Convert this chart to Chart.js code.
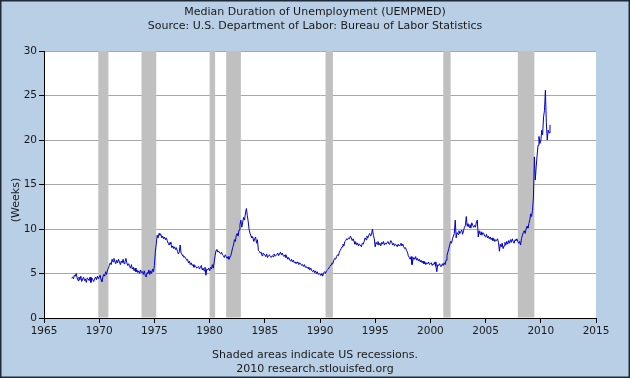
<!DOCTYPE html>
<html>
<head>
<meta charset="utf-8">
<script src="https://cdn.jsdelivr.net/npm/chart.js@4.4.0/dist/chart.umd.min.js"></script>
<style>
html,body{margin:0;padding:0;background:#b9cfe6;}
#wrap{width:630px;height:378px;position:relative;}
canvas{display:block;}
</style>
</head>
<body>
<div id="wrap"><canvas id="c" width="630" height="378"></canvas></div>
<script>
// ---- data ----
const titleLines = ["Median Duration of Unemployment (UEMPMED)", "Source: U.S. Department of Labor: Bureau of Labor Statistics"];
const footerLines = ["Shaded areas indicate US recessions.", "2010 research.stlouisfed.org"];
const yAxisTitle = "(Weeks)";
const startYear = 1967, startMonth = 7; // first monthly observation
const medianWeeks = [
  4.5, 4.6, 4.4, 4.8, 4.7, 5.0,                              // 1967 Jul-Dec
  4.5, 4.2, 4.6, 4.3, 4.7, 4.1, 4.4, 4.6, 4.2, 4.4, 4.0, 4.5,  // 1968
  4.4, 4.2, 4.6, 4.0, 4.5, 4.3, 4.1, 4.4, 4.6, 4.3, 4.7, 4.4,  // 1969
  4.6, 4.8, 4.3, 4.1, 4.6, 4.9, 4.7, 5.2, 4.9, 5.4, 5.6, 5.9,  // 1970
  6.2, 6.0, 6.6, 6.3, 6.7, 6.4, 6.1, 6.5, 6.2, 6.6, 6.3, 6.0,  // 1971
  6.4, 6.2, 6.6, 6.1, 6.3, 6.7, 6.2, 5.9, 6.1, 5.8, 5.6, 6.0,  // 1972
  5.5, 5.7, 5.3, 5.6, 5.2, 5.4, 5.1, 5.3, 5.0, 5.4, 5.1, 5.2,  // 1973
  4.9, 5.3, 4.8, 4.6, 5.1, 5.0, 5.4, 4.9, 5.3, 5.0, 5.5, 5.2,  // 1974
  5.9, 7.4, 8.3, 9.3, 9.0, 9.5, 9.3, 9.4, 9.0, 9.2, 8.9, 9.1,  // 1975
  8.8, 9.0, 8.7, 8.4, 8.2, 8.5, 8.3, 7.9, 8.1, 7.8, 8.0, 7.7,  // 1976
  7.9, 7.5, 7.2, 7.4, 8.2, 7.3, 7.1, 7.0, 6.8, 6.9, 6.7, 6.5,  // 1977
  6.6, 6.2, 6.4, 6.0, 6.2, 5.9, 6.0, 5.7, 5.9, 5.8, 5.6, 5.7,  // 1978
  5.8, 5.5, 5.7, 5.9, 5.4, 5.6, 5.3, 5.7, 4.8, 5.5, 5.4, 5.6,  // 1979
  5.3, 5.7, 5.5, 6.0, 5.6, 6.3, 7.0, 7.6, 7.7, 7.4, 7.5, 7.3,  // 1980
  7.2, 7.4, 7.1, 7.0, 6.8, 7.1, 6.9, 6.7, 6.9, 6.6, 6.8, 7.0,  // 1981
  7.4, 7.9, 8.2, 8.8, 8.6, 9.3, 9.5, 9.2, 9.9, 10.5, 11.0, 10.2, // 1982
  10.8, 11.3, 11.0, 11.8, 12.3, 11.5, 10.8, 9.9, 9.5, 9.2, 9.0, 9.1, // 1983
  8.6, 8.9, 9.1, 8.4, 8.8, 7.6, 7.5, 7.3, 7.4, 7.0, 7.3, 7.2,  // 1984
  7.1, 6.9, 7.2, 6.8, 7.0, 7.1, 6.9, 6.8, 7.0, 6.9, 7.2, 7.0,  // 1985
  7.0, 7.1, 7.3, 7.0, 7.2, 7.4, 7.1, 7.3, 7.0, 6.9, 7.1, 6.8,  // 1986
  6.9, 6.6, 6.8, 6.5, 6.4, 6.6, 6.3, 6.5, 6.2, 6.3, 6.1, 6.3,  // 1987
  6.2, 6.0, 6.2, 6.1, 5.9, 6.0, 5.8, 6.0, 5.7, 5.8, 5.6, 5.7,  // 1988
  5.5, 5.4, 5.6, 5.3, 5.2, 5.4, 5.1, 5.3, 5.0, 5.2, 4.9, 5.0,  // 1989
  4.9, 4.8, 5.0, 4.7, 5.1, 5.2, 5.0, 5.3, 5.4, 5.5, 5.7, 5.8,  // 1990
  6.0, 6.2, 6.1, 6.5, 6.7, 6.6, 6.9, 7.1, 7.0, 7.4, 7.6, 7.8,  // 1991
  8.0, 8.3, 8.1, 8.6, 8.7, 8.9, 8.8, 9.0, 8.9, 9.2, 9.0, 8.7,  // 1992
  8.9, 8.6, 8.3, 8.5, 8.2, 8.4, 8.1, 8.3, 8.2, 8.0, 8.4, 8.3,  // 1993
  8.6, 9.0, 8.8, 9.2, 9.0, 9.3, 9.5, 9.2, 9.4, 10.0, 9.3, 8.9, // 1994
  8.0, 8.5, 8.3, 8.6, 8.2, 8.4, 8.1, 8.5, 8.3, 8.6, 8.2, 8.4,  // 1995
  8.3, 8.5, 8.6, 8.3, 8.4, 8.7, 8.5, 8.2, 8.4, 8.1, 8.3, 8.2,  // 1996
  8.0, 8.3, 8.1, 8.2, 8.4, 8.1, 8.3, 8.0, 7.8, 7.9, 7.6, 7.4,  // 1997
  7.0, 6.8, 6.6, 6.9, 6.0, 6.5, 6.8, 6.6, 6.9, 6.5, 6.7, 6.4,  // 1998
  6.6, 6.3, 6.5, 6.2, 6.4, 6.1, 6.3, 6.0, 6.2, 6.1, 6.3, 6.0,  // 1999
  6.1, 6.2, 5.9, 6.1, 6.0, 6.3, 5.8, 5.2, 6.0, 5.9, 6.1, 5.8,  // 2000
  5.8, 6.1, 5.9, 6.2, 6.0, 6.5, 7.0, 7.4, 7.8, 8.2, 8.6, 8.4,  // 2001
  8.9, 9.2, 9.5, 11.0, 9.0, 9.6, 9.4, 9.8, 9.5, 9.7, 9.9, 9.4, // 2002
  9.8, 10.2, 10.4, 11.4, 10.3, 10.6, 10.2, 10.5, 10.1, 10.7, 10.4, 10.2, // 2003
  10.4, 10.2, 10.8, 11.0, 9.1, 9.8, 9.4, 9.7, 9.3, 9.6, 9.5, 9.2, // 2004
  9.1, 9.4, 9.0, 9.2, 8.9, 9.1, 8.8, 9.0, 8.7, 8.9, 8.6, 8.8,  // 2005
  8.7, 8.9, 8.5, 7.5, 8.3, 8.0, 8.4, 7.8, 8.1, 8.5, 8.2, 8.6,  // 2006
  8.3, 8.7, 8.4, 8.8, 8.5, 8.9, 8.6, 8.4, 8.8, 8.7, 8.9, 8.6,  // 2007
  8.4, 8.6, 8.2, 8.9, 9.3, 9.6, 9.8, 9.5, 10.0, 10.3, 10.1, 10.6, // 2008
  11.0, 11.7, 11.4, 12.1, 13.6, 18.1, 15.5, 17.0, 18.3, 19.4, 20.4, 19.6, // 2009
  19.9, 21.1, 20.6, 22.6, 23.3, 25.6, 22.0, 20.0, 21.1, 20.8, 21.7  // 2010 Jan-Nov
];
// recessions: [start year, start month, end year, end month]
const recessions = [
  [1969,12,1970,11],[1973,11,1975,3],[1980,1,1980,7],[1981,7,1982,11],
  [1990,7,1991,3],[2001,3,2001,11],[2007,12,2009,6]
];
const xTickValues = [1965,1970,1975,1980,1985,1990,1995,2000,2005,2010,2015];
const yTickValues = [0,5,10,15,20,25,30];

// ---- chart ----
const points = medianWeeks.map((v,i)=>({x: startYear + (startMonth-1+i)/12, y: v}));
const FONT = "'DejaVu Sans', Verdana, sans-serif";
const TXT = '#1a1a1a';

const decor = {
  id:'decor',
  beforeDraw(chart){
    const {ctx, chartArea:a} = chart;
    ctx.save();
    ctx.fillStyle = '#b9cfe6';
    ctx.fillRect(0,0,chart.width,chart.height);
    ctx.fillStyle = '#ffffff';
    ctx.fillRect(a.left,a.top,a.right-a.left,a.bottom-a.top);
    ctx.restore();
  },
  beforeDatasetsDraw(chart){
    const {ctx, chartArea:a, scales:{x}} = chart;
    ctx.save();
    ctx.fillStyle = '#c0c0c0';
    recessions.forEach(r=>{
      const s = x.getPixelForValue(r[0]+(r[1]-1)/12);
      const e = x.getPixelForValue(r[2]+(r[3]-1)/12);
      ctx.fillRect(s, a.top, e-s, a.bottom-a.top-0.5);
    });
    ctx.restore();
  },
  afterDraw(chart){
    const {ctx} = chart;
    ctx.save();
    ctx.fillStyle = TXT;
    ctx.font = '11px ' + FONT;
    ctx.textAlign = 'center';
    ctx.textBaseline = 'middle';
    ctx.fillText(titleLines[0], 315, 12);
    ctx.fillText(titleLines[1], 315, 26);
    ctx.fillText(footerLines[0], 315, 355);
    ctx.fillText(footerLines[1], 315, 369);
    ctx.translate(16, 200);
    ctx.rotate(-Math.PI/2);
    ctx.fillText(yAxisTitle, 0, 0);
    ctx.restore();
    ctx.save();
    ctx.strokeStyle = '#1e2a38';
    ctx.lineWidth = 1.5;
    ctx.strokeRect(0.75,0.75,chart.width-1.5,chart.height-1.5);
    ctx.restore();
  }
};

new Chart(document.getElementById('c'), {
  type:'line',
  data:{datasets:[{
    data: points,
    borderColor:'#0000cc',
    borderWidth:1,
    pointRadius:0,
    tension:0,
    fill:false
  }]},
  options:{
    responsive:false,
    animation:false,
    events:[],
    layout:{padding:{left:0,right:34,top:51,bottom:0}},
    plugins:{legend:{display:false},tooltip:{enabled:false},title:{display:false}},
    scales:{
      x:{
        type:'linear', min:1965, max:2015,
        afterFit(s){ s.height = 60; },
        afterBuildTicks(s){ s.ticks = xTickValues.map(v=>({value:v})); },
        grid:{display:true, drawOnChartArea:false, drawTicks:true, tickLength:5, tickColor:'#000'},
        border:{display:true, color:'#000', width:1},
        ticks:{color:TXT, font:{family:FONT, size:10.5}, padding:2, maxRotation:0, autoSkip:false,
               callback:(v)=>String(v)}
      },
      y:{
        type:'linear', min:0, max:30,
        afterFit(s){ s.width = 44; },
        afterBuildTicks(s){ s.ticks = yTickValues.map(v=>({value:v})); },
        grid:{display:true, drawOnChartArea:true, color:'#a8a8a8', lineWidth:1, drawTicks:true, tickLength:5, tickColor:'#000'},
        border:{display:true, color:'#000', width:1},
        ticks:{color:TXT, font:{family:FONT, size:10.5}, padding:2, autoSkip:false,
               callback:(v)=>String(v)}
      }
    }
  },
  plugins:[decor]
});
</script>
</body>
</html>
